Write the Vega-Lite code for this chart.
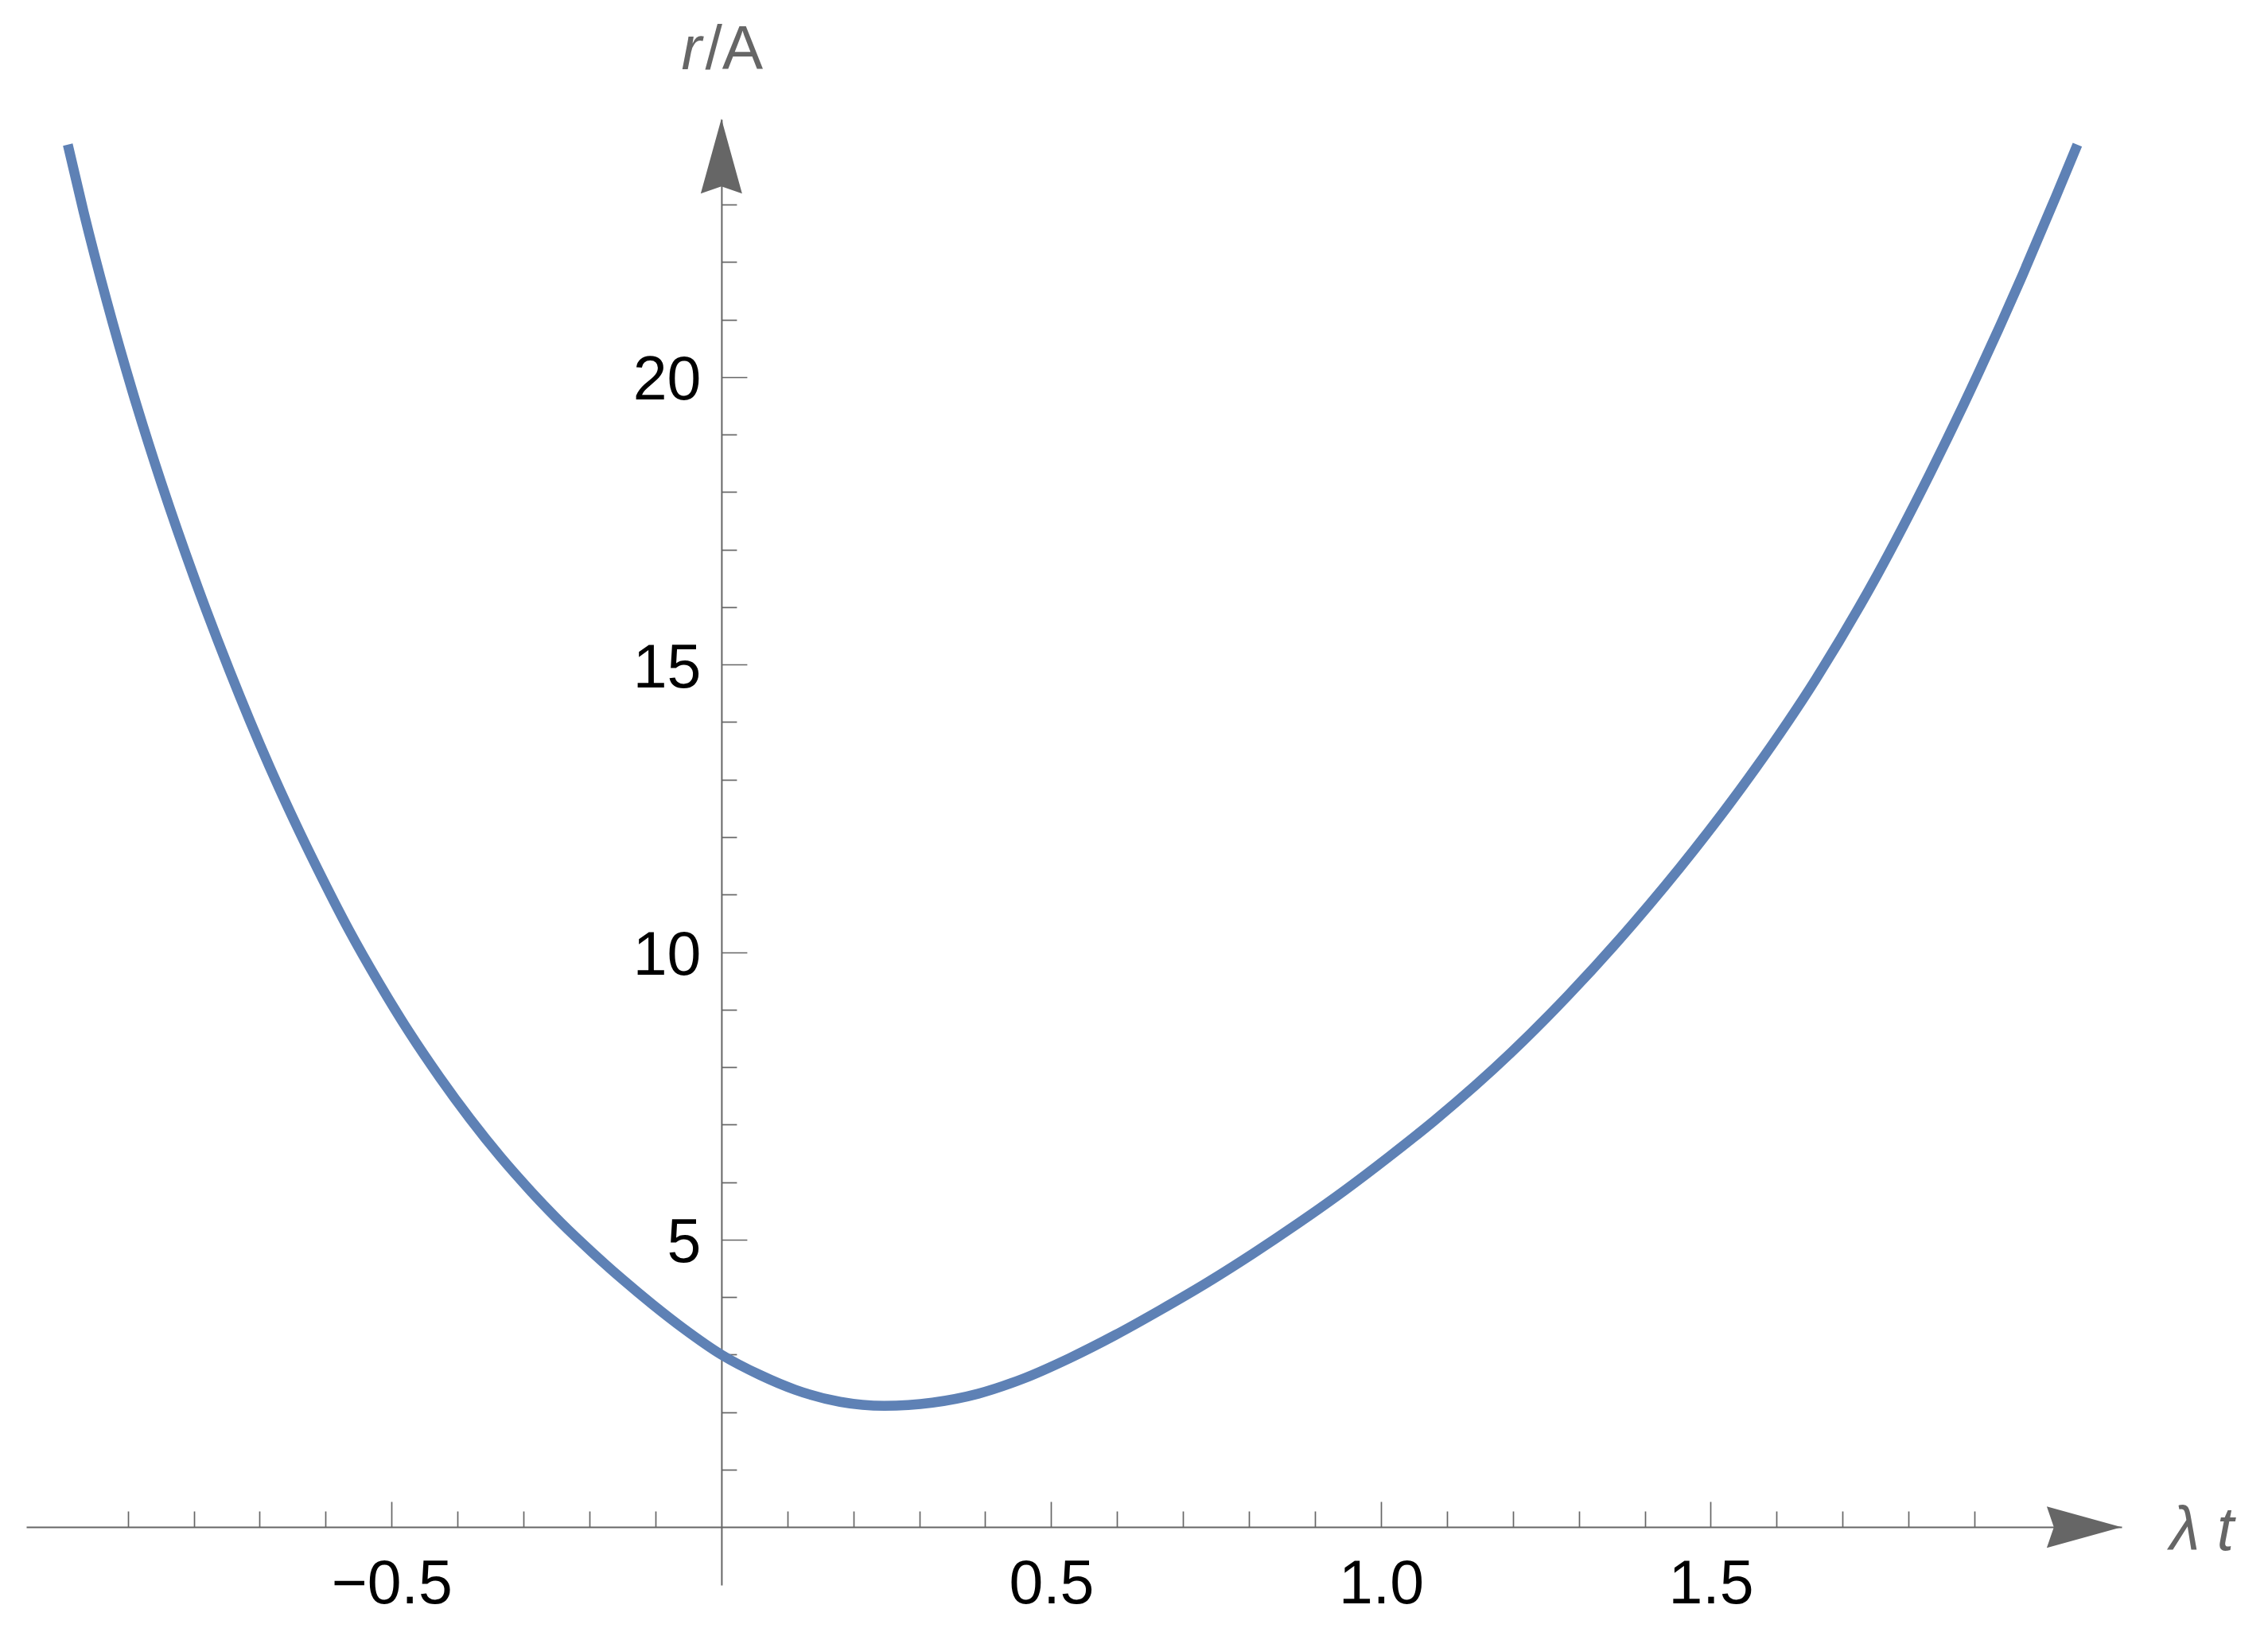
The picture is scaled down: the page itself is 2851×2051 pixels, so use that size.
{
  "$schema": "https://vega.github.io/schema/vega-lite/v6.json",
  "autosize": {"type": "none"},
  "width": 2634,
  "height": 1842,
  "padding": {"left": 33, "top": 150, "right": 184, "bottom": 59},
  "background": "white",
  "config": {
    "view": {"stroke": null},
    "axis": {"grid": false, "labelFont": "Liberation Sans", "titleFont": "Liberation Sans", "labelFlush": false, "labelOverlap": false, "labelBound": false}
  },
  "layer": [
    {
      "data": {"values": [
        {"t": -0.991, "r": 24.04},
        {"t": -0.967, "r": 22.87},
        {"t": -0.932, "r": 21.32},
        {"t": -0.893, "r": 19.75},
        {"t": -0.849, "r": 18.15},
        {"t": -0.799, "r": 16.50},
        {"t": -0.746, "r": 14.90},
        {"t": -0.685, "r": 13.22},
        {"t": -0.638, "r": 12.05},
        {"t": -0.612, "r": 11.44},
        {"t": -0.565, "r": 10.39},
        {"t": -0.519, "r": 9.46},
        {"t": -0.473, "r": 8.60},
        {"t": -0.427, "r": 7.82},
        {"t": -0.381, "r": 7.10},
        {"t": -0.335, "r": 6.44},
        {"t": -0.288, "r": 5.83},
        {"t": -0.242, "r": 5.28},
        {"t": -0.196, "r": 4.78},
        {"t": -0.150, "r": 4.31},
        {"t": -0.104, "r": 3.87},
        {"t": -0.058, "r": 3.46},
        {"t": 0.000, "r": 3.00},
        {"t": 0.058, "r": 2.65},
        {"t": 0.112, "r": 2.39},
        {"t": 0.180, "r": 2.18},
        {"t": 0.247, "r": 2.11},
        {"t": 0.320, "r": 2.166},
        {"t": 0.389, "r": 2.32},
        {"t": 0.458, "r": 2.585},
        {"t": 0.528, "r": 2.94},
        {"t": 0.597, "r": 3.34},
        {"t": 0.666, "r": 3.78},
        {"t": 0.736, "r": 4.25},
        {"t": 0.805, "r": 4.75},
        {"t": 0.874, "r": 5.28},
        {"t": 0.943, "r": 5.84},
        {"t": 1.012, "r": 6.44},
        {"t": 1.082, "r": 7.08},
        {"t": 1.198, "r": 8.26},
        {"t": 1.284, "r": 9.25},
        {"t": 1.382, "r": 10.49},
        {"t": 1.475, "r": 11.78},
        {"t": 1.567, "r": 13.18},
        {"t": 1.659, "r": 14.74},
        {"t": 1.752, "r": 16.55},
        {"t": 1.832, "r": 18.31},
        {"t": 1.906, "r": 20.07},
        {"t": 1.973, "r": 21.78},
        {"t": 2.023, "r": 23.13},
        {"t": 2.056, "r": 24.04}
      ]},
      "mark": {"type": "line", "interpolate": "monotone", "color": "#5E81B5", "strokeWidth": 12.5},
      "encoding": {
        "x": {
          "field": "t", "type": "quantitative",
          "scale": {"domain": [-1.054, 2.123], "nice": false, "zero": false},
          "axis": {
            "orient": "bottom", "offset": -73,
            "values": [-0.5, 0.5, 1.0, 1.5], "format": ".1f",
            "domain": true, "domainColor": "#666666", "domainWidth": 2,
            "ticks": true, "tickSize": -32, "tickWidth": 1.7, "tickColor": "#666666",
            "labelFontSize": 77, "labelColor": "#000000", "labelBaseline": "alphabetic", "labelPadding": 127,
            "title": "λ t", "titleFontStyle": "italic", "titleFontWeight": "normal", "titleFontSize": 77, "titleColor": "#666666",
            "titleAlign": "left", "titleBaseline": "alphabetic", "titleX": 2694, "titleY": 28, "titleAngle": 0
          }
        },
        "y": {
          "field": "r", "type": "quantitative",
          "scale": {"domain": [-1.006, 24.48], "nice": false, "zero": false},
          "axis": {
            "orient": "left", "offset": -873.9,
            "values": [5, 10, 15, 20], "format": "d",
            "domain": true, "domainColor": "#666666", "domainWidth": 2,
            "ticks": true, "tickSize": -32, "tickWidth": 1.7, "tickColor": "#666666",
            "labelFontSize": 77, "labelColor": "#000000", "labelAlign": "right", "labelBaseline": "alphabetic", "labelOffset": 28, "labelPadding": 58,
            "title": "r", "titleFontStyle": "italic", "titleFontWeight": "normal", "titleFontSize": 77, "titleColor": "#666666",
            "titleAlign": "left", "titleBaseline": "alphabetic", "titleX": -51, "titleY": -64, "titleAngle": 0
          }
        }
      }
    },
    {
      "data": {"values": [{"t": 0, "r": 23.84}]},
      "mark": {"type": "point", "shape": "M0,-1L0.553,1L0,0.81L-0.553,1Z", "filled": true, "color": "#666666", "size": 8836, "opacity": 1},
      "encoding": {
        "x": {
          "field": "t", "type": "quantitative",
          "axis": {
            "orient": "bottom", "offset": -73,
            "values": [-0.9, -0.8, -0.7, -0.6, -0.4, -0.3, -0.2, -0.1, 0.1, 0.2, 0.3, 0.4, 0.6, 0.7, 0.8, 0.9, 1.1, 1.2, 1.3, 1.4, 1.6, 1.7, 1.8, 1.9],
            "domain": false, "labels": false,
            "ticks": true, "tickSize": -20, "tickWidth": 1.7, "tickColor": "#666666",
            "title": null
          }
        },
        "y": {
          "field": "r", "type": "quantitative",
          "axis": {
            "orient": "left", "offset": -873.9,
            "values": [1, 2, 3, 4, 6, 7, 8, 9, 11, 12, 13, 14, 16, 17, 18, 19, 21, 22, 23],
            "domain": false, "labels": false,
            "ticks": true, "tickSize": -19, "tickWidth": 1.7, "tickColor": "#666666",
            "title": "/A", "titleFontStyle": "normal", "titleFontWeight": "normal", "titleFontSize": 77, "titleColor": "#666666",
            "titleAlign": "left", "titleBaseline": "alphabetic", "titleX": -21, "titleY": -64, "titleAngle": 0
          }
        }
      }
    },
    {
      "data": {"values": [{"t": 2.0662, "r": 0}]},
      "mark": {"type": "point", "shape": "M1,0L-1,-0.553L-0.81,0L-1,0.553Z", "filled": true, "color": "#666666", "size": 8836, "opacity": 1},
      "encoding": {
        "x": {"field": "t", "type": "quantitative", "axis": null},
        "y": {"field": "r", "type": "quantitative", "axis": null}
      }
    }
  ],
  "resolve": {"axis": {"x": "independent", "y": "independent"}}
}
